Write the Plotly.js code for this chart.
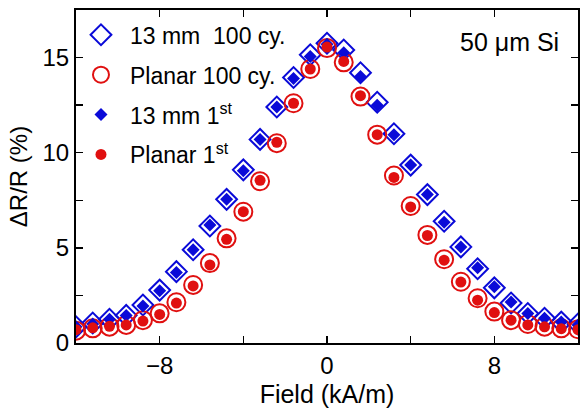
<!DOCTYPE html>
<html>
<head>
<meta charset="utf-8">
<script src="https://cdn.plot.ly/plotly-3.0.1.min.js"></script>
<style>html,body{margin:0;padding:0;background:#fff;}#chart{width:582px;height:412px;}</style>
</head>
<body>
<div id="chart"></div>
<script>
// Field values (kA/m)
const field = [-12, -11.2, -10.4, -9.6, -8.8, -8.0, -7.2, -6.4, -5.6, -4.8, -4.0, -3.2, -2.4, -1.6, -0.8, 0,
               0.8, 1.6, 2.4, 3.2, 4.0, 4.8, 5.6, 6.4, 7.2, 8.0, 8.8, 9.6, 10.4, 11.2, 12];
// ΔR/R (%)
const mm13_100 = [0.85, 1.05, 1.25, 1.45, 2.0, 2.78, 3.75, 4.9, 6.15, 7.55, 9.1, 10.7, 12.4, 13.95, 15.15, 15.75,
                  15.4, 14.2, 12.65, 11.0, 9.35, 7.8, 6.4, 5.05, 3.9, 2.9, 2.1, 1.55, 1.3, 1.1, 1.0];
const planar_100 = [0.65, 0.77, 0.86, 0.95, 1.2, 1.56, 2.14, 3.05, 4.2, 5.5, 6.9, 8.5, 10.5, 12.6, 14.4, 15.5,
                    14.75, 12.95, 10.95, 8.8, 7.2, 5.68, 4.4, 3.22, 2.35, 1.65, 1.2, 1.0, 0.86, 0.77, 0.72];
const mm13_1st = [0.85, 1.0, 1.25, 1.45, 1.95, 2.75, 3.7, 4.9, 6.2, 7.55, 9.05, 10.7, 12.4, 13.9, 15.05, 15.7,
                  15.25, 14.0, 12.5, 10.95, 9.35, 7.8, 6.35, 5.05, 3.95, 2.95, 2.15, 1.55, 1.3, 1.1, 0.95];
const planar_1st = [0.7, 0.8, 0.88, 0.95, 1.15, 1.5, 2.1, 3.0, 4.1, 5.45, 6.9, 8.55, 10.55, 12.6, 14.4, 15.55,
                    14.8, 13.0, 10.95, 8.7, 7.15, 5.65, 4.35, 3.2, 2.25, 1.6, 1.2, 0.95, 0.85, 0.75, 0.7];
const seriesNames = ['13 mm  100 cy.', 'Planar 100 cy.', '13 mm 1<sup>st</sup>', 'Planar 1<sup>st</sup>'];
const xTickVals = [-12, -8, -4, 0, 4, 8, 12];
const xTickText = ['', '\u22128', '', '0', '', '8', ''];
const yTickVals = [0, 2.5, 5, 7.5, 10, 12.5, 15];
const yTickText = ['0', '', '5', '', '10', '', '15'];

const BLUE = '#0a0ad8';
const RED = '#e01010';
const FONT = 'Liberation Sans, Arial, sans-serif';

const traces = [
  {x: field, y: mm13_100, name: seriesNames[0], legendgroup: 'a', mode: 'markers', type: 'scatter',
   marker: {symbol: 'diamond-open', size: 16, color: BLUE, line: {width: 2, color: BLUE}}},
  {x: field, y: planar_100, name: seriesNames[1], legendgroup: 'b', mode: 'markers', type: 'scatter',
   marker: {symbol: 'circle-open', size: 18, color: RED, line: {width: 2, color: RED}}},
  {x: field, y: mm13_1st, name: seriesNames[2], legendgroup: 'c', mode: 'markers', type: 'scatter',
   marker: {symbol: 'diamond', size: 10, color: BLUE, line: {width: 0}}},
  {x: field, y: planar_1st, name: seriesNames[3], legendgroup: 'd', mode: 'markers', type: 'scatter',
   marker: {symbol: 'circle', size: 11, color: RED, line: {width: 0}}}
];

const axisCommon = {
  showline: true, linecolor: '#000', linewidth: 2, mirror: 'ticks',
  ticks: 'inside', ticklen: 7, tickwidth: 1.5, tickcolor: '#000',
  showgrid: false, zeroline: false,
  tickfont: {family: FONT, size: 24, color: '#000'}
};

const layout = {
  width: 582, height: 412,
  margin: {l: 76, r: 4, t: 10, b: 69},
  paper_bgcolor: '#fff', plot_bgcolor: '#fff',
  font: {family: FONT, color: '#000'},
  showlegend: true,
  legend: {x: -0.008, y: 0.99, xanchor: 'left', yanchor: 'top', bgcolor: 'rgba(0,0,0,0)',
           font: {family: FONT, size: 23, color: '#000'}, tracegroupgap: 7, traceorder: 'grouped',
           itemwidth: 48},
  xaxis: Object.assign({}, axisCommon, {
    range: [-12, 12], tickmode: 'array', tickvals: xTickVals, ticktext: xTickText,
    title: {text: 'Field (kA/m)', font: {family: FONT, size: 25, color: '#000'}, standoff: 8}
  }),
  yaxis: Object.assign({}, axisCommon, {
    range: [0, 17.5], tickmode: 'array', tickvals: yTickVals, ticktext: yTickText,
    title: {text: '\u0394R/R (%)', font: {family: FONT, size: 24, color: '#000'}, standoff: 8}
  }),
  annotations: [{
    text: '50 \u03bcm Si', xref: 'paper', yref: 'paper', x: 0.967, y: 0.905,
    xanchor: 'right', yanchor: 'middle', showarrow: false,
    font: {family: FONT, size: 25, color: '#000'}
  }]
};

Plotly.newPlot('chart', traces, layout, {displayModeBar: false, staticPlot: true});
</script>
</body>
</html>
